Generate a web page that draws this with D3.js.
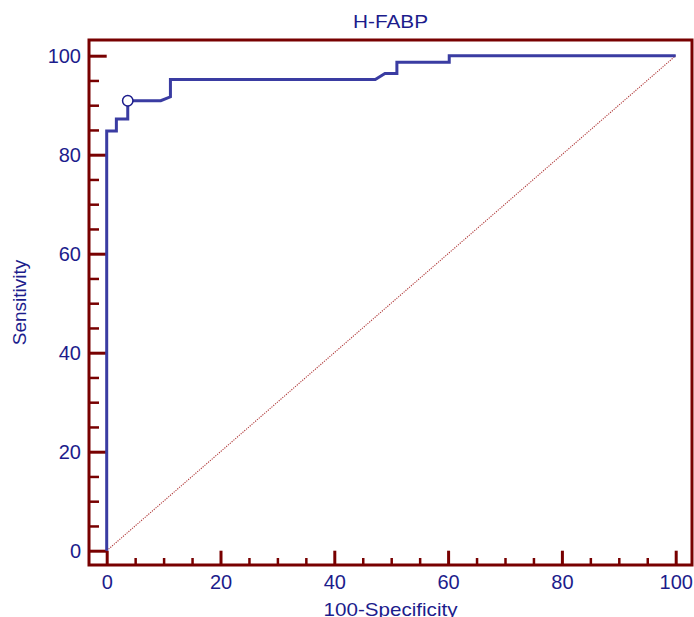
<!DOCTYPE html>
<html>
<head>
<meta charset="utf-8">
<script src="https://cdn.jsdelivr.net/npm/d3@7"></script>
<style>
	body { margin: 0; background: #fff; }
	text { font-family: "Liberation Sans", Arial, sans-serif; fill: #1c1c8c; }
</style>
</head>
<body>
<svg id="roc-chart" width="694" height="617"></svg>
<script>
// ROC curve points (100-Specificity, Sensitivity)
const fpr = [0, 0, 1.7, 1.7, 3.7, 3.7, 9.5, 11.2, 11.2, 47.2, 48.9, 51.0, 51.0, 60.2, 60.2, 100];
const tpr = [0, 84.8, 84.8, 87.2, 87.2, 90.9, 90.9, 91.7, 95.2, 95.2, 96.4, 96.4, 98.7, 98.7, 100, 100];

// optimal cut-off marker
const cutoff = [{ x: 3.7, y: 90.9 }];

const majorTicks = [0, 20, 40, 60, 80, 100];
const minorTicks = [5, 10, 15, 25, 30, 35, 45, 50, 55, 65, 70, 75, 85, 90, 95];

const title = 'H-FABP';
const xLabel = '100-Specificity';
const yLabel = 'Sensitivity';

const frameColor = '#780000';
const curveColor = '#3a3ca2';

const frame = { left: 89, top: 40, right: 692, bottom: 565 };

const x = d3.scaleLinear().domain([0, 100]).range([106.7, 675.7]);
const y = d3.scaleLinear().domain([0, 100]).range([550.7, 55.7]);

const svg = d3.select('svg[id=roc-chart]');

// reference diagonal
svg.append('line')
	.attr('x1', x(0)).attr('y1', y(0))
	.attr('x2', x(100)).attr('y2', y(100))
	.style('stroke', '#b03a3a')
	.style('stroke-width', 1.1)
	.style('stroke-dasharray', '1.2,1.2');

// ticks, drawn inside the frame
const tickStyle = (g, w) => {
	g.select('.domain').remove();
	g.selectAll('.tick line').style('stroke', frameColor).style('stroke-width', w);
};

svg.append('g')
	.attr('transform', `translate(${frame.left},0)`)
	.call(d3.axisRight(y).tickValues(majorTicks).tickSize(x(0) - frame.left).tickFormat(''))
	.call((g) => tickStyle(g, 3));
svg.append('g')
	.attr('transform', `translate(${frame.left},0)`)
	.call(d3.axisRight(y).tickValues(minorTicks).tickSize(10).tickFormat(''))
	.call((g) => tickStyle(g, 2.5));
svg.append('g')
	.attr('transform', `translate(0,${frame.bottom})`)
	.call(d3.axisTop(x).tickValues(majorTicks).tickSize(frame.bottom - y(0)).tickFormat(''))
	.call((g) => tickStyle(g, 3));
svg.append('g')
	.attr('transform', `translate(0,${frame.bottom})`)
	.call(d3.axisTop(x).tickValues(minorTicks).tickSize(7).tickFormat(''))
	.call((g) => tickStyle(g, 2.5));

// tick labels
const labelStyle = (g) => {
	g.select('.domain').remove();
	g.selectAll('.tick line').remove();
	g.selectAll('.tick text')
		.style('font-size', '20px')
		.style('fill', '#1c1c8c')
		.style('font-family', '"Liberation Sans", Arial, sans-serif');
};

svg.append('g')
	.attr('transform', `translate(${frame.left},0)`)
	.call(d3.axisLeft(y).tickValues(majorTicks).tickSize(0).tickPadding(8))
	.call(labelStyle);
svg.append('g')
	.attr('transform', `translate(0,${frame.bottom})`)
	.call(d3.axisBottom(x).tickValues(majorTicks).tickSize(0).tickPadding(10))
	.call(labelStyle);

// frame
svg.append('rect')
	.attr('x', frame.left).attr('y', frame.top)
	.attr('width', frame.right - frame.left)
	.attr('height', frame.bottom - frame.top)
	.style('fill', 'none')
	.style('stroke', frameColor)
	.style('stroke-width', 3);

// ROC curve
const line = d3.line()
	.x((d) => x(d[0]))
	.y((d) => y(d[1]));

svg.append('path')
	.datum(d3.zip(fpr, tpr))
	.attr('d', line)
	.style('fill', 'none')
	.style('stroke', curveColor)
	.style('stroke-width', 3)
	.style('stroke-linejoin', 'miter');

svg.selectAll('.cutoff')
	.data(cutoff)
	.join('circle')
	.attr('class', 'cutoff')
	.attr('cx', (d) => x(d.x))
	.attr('cy', (d) => y(d.y))
	.attr('r', 5.2)
	.style('fill', '#fff')
	.style('stroke', '#1c1c8c')
	.style('stroke-width', 1.5);

// titles
svg.append('text')
	.attr('x', (frame.left + frame.right) / 2)
	.attr('y', 28)
	.attr('text-anchor', 'middle')
	.style('font-size', '19px')
	.attr('textLength', 75)
	.attr('lengthAdjust', 'spacingAndGlyphs')
	.text(title);

svg.append('text')
	.attr('x', (frame.left + frame.right) / 2)
	.attr('y', 616)
	.attr('text-anchor', 'middle')
	.style('font-size', '19px')
	.attr('textLength', 134)
	.attr('lengthAdjust', 'spacingAndGlyphs')
	.text(xLabel);

svg.append('text')
	.attr('transform', `translate(26,${(frame.top + frame.bottom) / 2}) rotate(-90)`)
	.attr('text-anchor', 'middle')
	.style('font-size', '19px')
	.text(yLabel);
</script>
</body>
</html>
